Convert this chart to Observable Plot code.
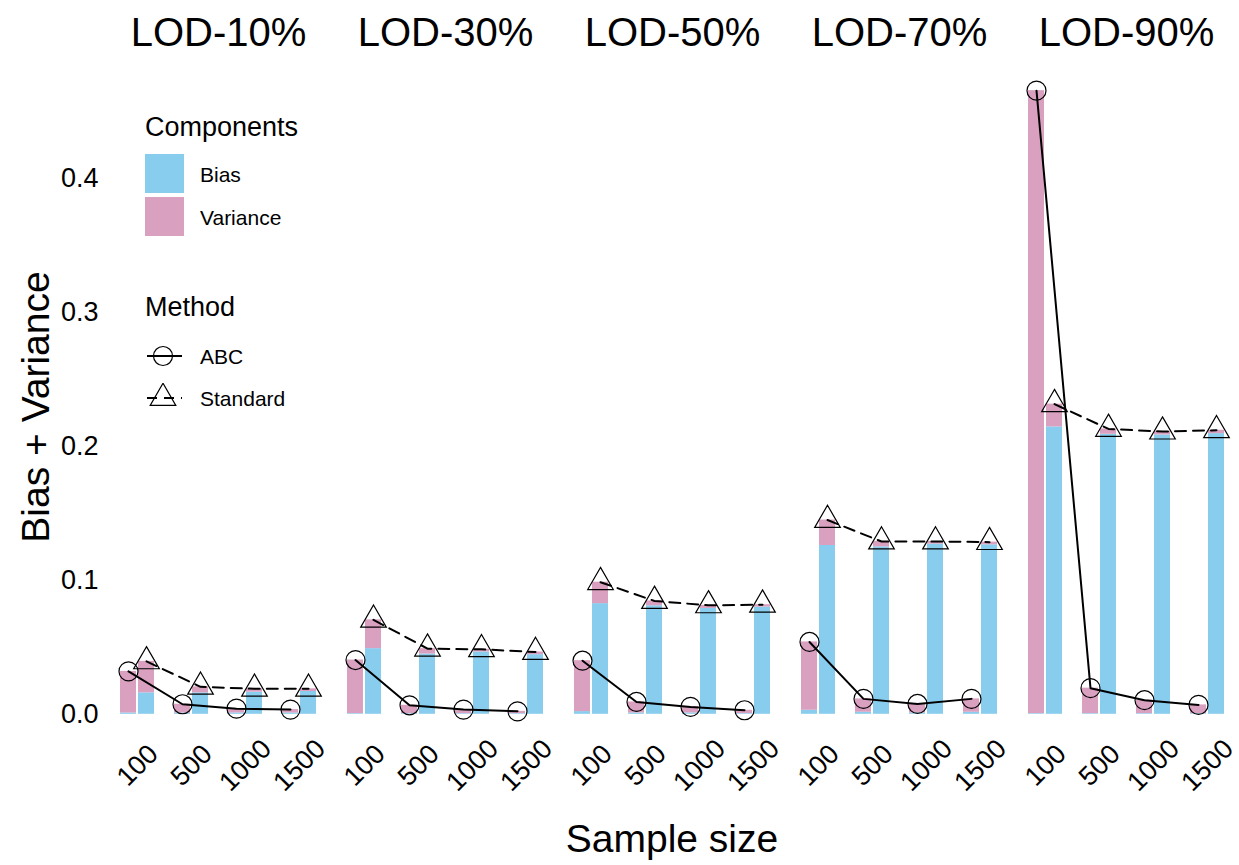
<!DOCTYPE html>
<html>
<head>
<meta charset="utf-8">
<script src="https://cdn.jsdelivr.net/npm/d3@7"></script>
<script src="https://cdn.jsdelivr.net/npm/@observablehq/plot@0.6"></script>
<style>
  body { margin: 0; background: #fff; font-family: "Liberation Sans", Arial, sans-serif; color: #000; }
  #wrap { position: relative; width: 1239px; height: 865px; overflow: hidden; }
  #wrap svg.plot { position: absolute; left: 0; top: 0; }
  .abs { position: absolute; white-space: nowrap; line-height: 1; }
  .ytitle { left: 35px; top: 407px; font-size: 39px; transform: translate(-50%, -50%) rotate(-90deg); }
  .xtitle { left: 672px; top: 819px; font-size: 39px; transform: translateX(-50%); }
  .lgtitle { font-size: 27px; }
  .lglab { font-size: 21px; transform: translateY(-50%); }
  .sw { position: absolute; width: 39px; height: 39px; }
</style>
</head>
<body>
<div id="wrap"></div>
<script>
// ---------- data ----------
const lods = ["LOD-10%", "LOD-30%", "LOD-50%", "LOD-70%", "LOD-90%"];
const sampleSizes = ["100", "500", "1000", "1500"];
const methods = ["ABC", "Standard"];
const components = ["Bias", "Variance"];
const componentColors = ["#88CCEE", "#DAA0C0"];
const yTicks = [0, 0.1, 0.2, 0.3, 0.4];

// rows: LOD level, columns: sample size
const abcBias = [
  [0.001, 0.001, 0.001, 0.001],
  [0.0005, 0.0005, 0.0005, 0.0005],
  [0.002, 0.001, 0.001, 0.0005],
  [0.003, 0.0015, 0.001, 0.0015],
  [0.0005, 0.0005, 0.0005, 0.0005]
];
const abcVariance = [
  [0.031, 0.0065, 0.0032, 0.0025],
  [0.040, 0.0062, 0.003, 0.0017],
  [0.038, 0.0082, 0.0045, 0.0025],
  [0.051, 0.010, 0.0067, 0.010],
  [0.465, 0.019, 0.010, 0.0065]
];
const stdBias = [
  [0.016, 0.016, 0.0165, 0.017],
  [0.049, 0.045, 0.0465, 0.0445],
  [0.0826, 0.081, 0.079, 0.080],
  [0.126, 0.125, 0.127, 0.1265],
  [0.2145, 0.209, 0.2085, 0.2095]
];
const stdVariance = [
  [0.0235, 0.0045, 0.0025, 0.002],
  [0.0215, 0.004, 0.002, 0.002],
  [0.016, 0.0036, 0.0023, 0.0018],
  [0.019, 0.004, 0.002, 0.002],
  [0.017, 0.004, 0.0025, 0.0025]
];

// ---------- tables ----------
const rows = [];
const totals = [];
lods.forEach((lod, i) => sampleSizes.forEach((size, j) => {
  rows.push({lod, size, method: "ABC", component: "Bias", value: abcBias[i][j]});
  rows.push({lod, size, method: "ABC", component: "Variance", value: abcVariance[i][j]});
  rows.push({lod, size, method: "Standard", component: "Bias", value: stdBias[i][j]});
  rows.push({lod, size, method: "Standard", component: "Variance", value: stdVariance[i][j]});
  totals.push({lod, size, method: "ABC", total: abcBias[i][j] + abcVariance[i][j]});
  totals.push({lod, size, method: "Standard", total: stdBias[i][j] + stdVariance[i][j]});
}));
const byMethod = (arr, m) => arr.filter(d => d.method === m);

const half = 18;   // half of the dodge group
const shift = 9;   // offset of each bar centre from the group centre
const symR = 9.5;

const chart = Plot.plot({
  width: 1239,
  height: 865,
  marginLeft: 109,
  marginRight: 4,
  marginTop: 60,
  marginBottom: 120,
  style: {fontFamily: '"Liberation Sans", Arial, sans-serif', color: "#000", background: "transparent", overflow: "visible"},
  fx: {domain: lods, paddingInner: 0.05, paddingOuter: 0, axis: null, label: null},
  x: {domain: sampleSizes, paddingInner: 0.37, paddingOuter: 0.185, axis: null, label: null},
  y: {domain: [-0.0233, 0.488], axis: null, label: null},
  color: {domain: components, range: componentColors},
  marks: [
    Plot.barY(byMethod(rows, "ABC"), Plot.stackY({fx: "lod", x: "size", y: "value", fill: "component", insetRight: half})),
    Plot.barY(byMethod(rows, "Standard"), Plot.stackY({fx: "lod", x: "size", y: "value", fill: "component", insetLeft: half})),
    Plot.lineY(byMethod(totals, "ABC"), {fx: "lod", x: "size", y: "total", stroke: "#000", strokeWidth: 2, dx: -shift}),
    Plot.lineY(byMethod(totals, "Standard"), {fx: "lod", x: "size", y: "total", stroke: "#000", strokeWidth: 2, strokeDasharray: "11,7", dx: shift}),
    Plot.dot(byMethod(totals, "ABC"), {fx: "lod", x: "size", y: "total", symbol: "circle", r: symR, stroke: "#000", strokeWidth: 1.2, fill: "none", dx: -shift}),
    Plot.dot(byMethod(totals, "Standard"), {fx: "lod", x: "size", y: "total", symbol: "triangle", r: symR, stroke: "#000", strokeWidth: 1.2, fill: "none", dx: shift}),
    Plot.axisY({ticks: yTicks, tickFormat: d3.format(".1f"), tickSize: 0, tickPadding: 12, fontSize: 27, label: null}),
    Plot.axisX({tickSize: 0, tickPadding: 20, tickRotate: -45, textAnchor: "middle", lineAnchor: "middle", fontSize: 27, label: null}),
    Plot.axisFx({anchor: "top", tickSize: 0, tickPadding: 27, lineAnchor: "middle", fontSize: 40, label: null})
  ]
});
chart.classList.add("plot");

const wrap = document.getElementById("wrap");
wrap.appendChild(chart);

function addDiv(cls, text, style) {
  const d = document.createElement("div");
  d.className = "abs " + cls;
  d.textContent = text;
  Object.assign(d.style, style || {});
  wrap.appendChild(d);
  return d;
}

// axis titles
addDiv("ytitle", "Bias + Variance");
addDiv("xtitle", "Sample size");

// legend: Components
addDiv("lgtitle", "Components", {left: "145px", top: "114px"});
components.forEach((c, i) => {
  const s = document.createElement("div");
  s.className = "sw";
  s.style.left = "145px";
  s.style.top = (154 + i * 43) + "px";
  s.style.background = componentColors[i];
  wrap.appendChild(s);
  addDiv("lglab", c, {left: "200px", top: (174 + i * 43) + "px"});
});

// legend: Method
addDiv("lgtitle", "Method", {left: "145px", top: "294px"});
const ns = "http://www.w3.org/2000/svg";
methods.forEach((m, i) => {
  const svg = document.createElementNS(ns, "svg");
  svg.setAttribute("width", 40);
  svg.setAttribute("height", 30);
  svg.style.position = "absolute";
  svg.style.left = "144px";
  svg.style.top = (341 + i * 42) + "px";
  const line = document.createElementNS(ns, "line");
  line.setAttribute("x1", 3); line.setAttribute("x2", 38);
  line.setAttribute("y1", 15); line.setAttribute("y2", 15);
  line.setAttribute("stroke", "#000"); line.setAttribute("stroke-width", 2);
  if (m === "Standard") line.setAttribute("stroke-dasharray", "10,7");
  svg.appendChild(line);
  const sym = document.createElementNS(ns, "path");
  const sz = Math.PI * symR * symR;
  sym.setAttribute("d", d3.symbol(m === "ABC" ? d3.symbolCircle : d3.symbolTriangle, sz)());
  sym.setAttribute("transform", "translate(19,15)");
  sym.setAttribute("fill", "none");
  sym.setAttribute("stroke", "#000");
  sym.setAttribute("stroke-width", 1.2);
  svg.appendChild(sym);
  wrap.appendChild(svg);
  addDiv("lglab", m, {left: "200px", top: (356 + i * 42) + "px"});
});
</script>
</body>
</html>
